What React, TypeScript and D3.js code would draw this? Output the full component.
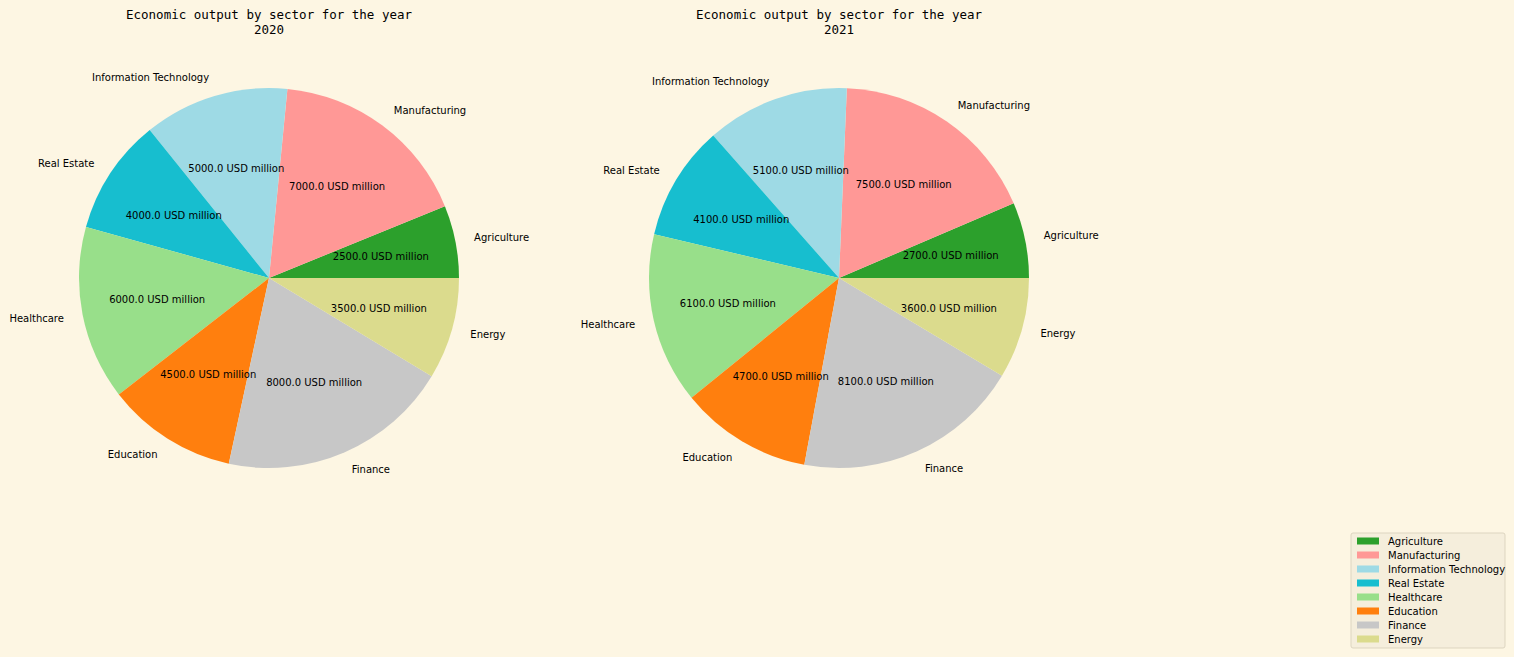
import * as d3 from "d3";

const sectors = ["Agriculture", "Manufacturing", "Information Technology", "Real Estate", "Healthcare", "Education", "Finance", "Energy"];
const colors = ["#2ca02c", "#ff9896", "#9edae5", "#17becf", "#98df8a", "#ff7f0e", "#c7c7c7", "#dbdb8d"];
const values2020 = [2500, 7000, 5000, 4000, 6000, 4500, 8000, 3500];
const values2021 = [2700, 7500, 5100, 4100, 6100, 4700, 8100, 3600];
const years = ["2020", "2021"];

const W = 1514, H = 657;
const R = 190;

function Pie({ cx, cy, values, year }: { cx: number; cy: number; values: number[]; year: string }) {
  const pie = d3.pie<number>().sort(null).startAngle(Math.PI / 2).endAngle(Math.PI / 2 - 2 * Math.PI);
  const arcs = pie(values);
  const arc = d3.arc<d3.PieArcDatum<number>>().innerRadius(0).outerRadius(R);
  return (
    <g transform={`translate(${cx},${cy})`}>
      <text x={0} y={-259} textAnchor="middle" fontFamily="DejaVu Sans Mono" fontSize={12.5}>Economic output by sector for the year</text>
      <text x={0} y={-244} textAnchor="middle" fontFamily="DejaVu Sans Mono" fontSize={12.5}>{year}</text>
      {arcs.map((a, i) => <path key={i} d={arc(a) || ""} fill={colors[i]} />)}
      {arcs.map((a, i) => {
        const m = (a.startAngle + a.endAngle) / 2;
        const sx = Math.sin(m), sy = -Math.cos(m);
        return (
          <g key={i} fontFamily="DejaVu Sans" fontSize={10}>
            <text x={sx * R * 1.1} y={sy * R * 1.1} dy="0.35em" textAnchor={sx > 0 ? "start" : "end"}>{sectors[i]}</text>
            <text x={sx * R * 0.6} y={sy * R * 0.6} dy="0.35em" textAnchor="middle">{values[i].toFixed(1)} USD million</text>
          </g>
        );
      })}
    </g>
  );
}

export default function App() {
  return (
    <svg width={W} height={H} style={{ position: "absolute", left: 0, top: 0, background: "#fdf6e3" }}>
      <rect width={W} height={H} fill="#fdf6e3" />
      <Pie cx={269} cy={278} values={values2020} year={years[0]} />
      <Pie cx={839} cy={278} values={values2021} year={years[1]} />
      <g transform="translate(1351,533)" fontFamily="DejaVu Sans" fontSize={10}>
        <rect width={154} height={115} rx={2} fill="#f5eedc" stroke="#ddd5c0" />
        {sectors.map((s, i) => (
          <g key={s} transform={`translate(6,${4.5 + i * 14})`}>
            <rect width={22} height={7} fill={colors[i]} />
            <text x={31} y={4} dy="0.35em">{s}</text>
          </g>
        ))}
      </g>
    </svg>
  );
}
